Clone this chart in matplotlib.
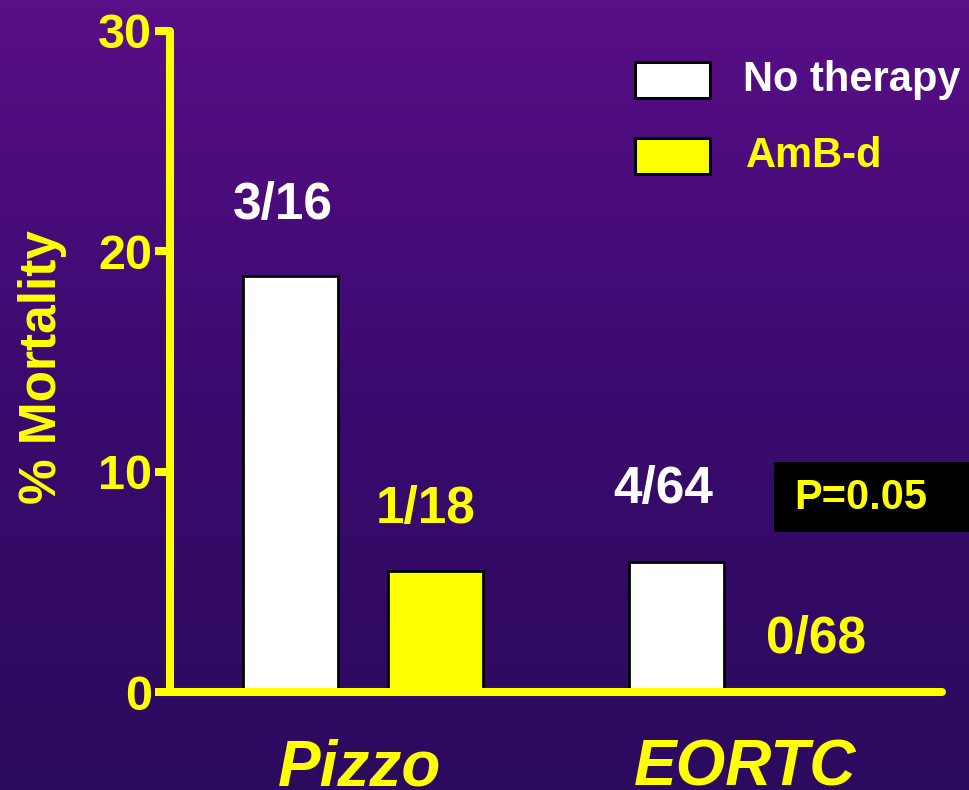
import numpy as np
import matplotlib
matplotlib.use("Agg")
import matplotlib.pyplot as plt
from matplotlib import font_manager
from matplotlib.patches import Rectangle
from matplotlib.colors import LinearSegmentedColormap

# ---- data ----
studies = ["Pizzo", "EORTC"]
series_names = ["No therapy", "AmB-d"]
no_therapy = [18.9, 5.9]
amb_d = [5.5, 0.0]
fractions_no_therapy = ["3/16", "4/64"]
fractions_amb_d = ["1/18", "0/68"]
y_ticks = [0, 10, 20, 30]
p_text = "P=0.05"
y_label = "% Mortality"

YELLOW = "#FFFF00"
WHITE = "#FFFFFF"

names = {f.name for f in font_manager.fontManager.ttflist}
narrow_fams = [n for n in ["Liberation Sans Narrow", "DejaVu Sans Condensed"] if n in names]
narrow = narrow_fams + ["Liberation Sans", "DejaVu Sans"]
plt.rcParams["font.family"] = ["Liberation Sans", "DejaVu Sans"]
plt.rcParams["font.weight"] = "bold"

W, H = 969, 790
fig = plt.figure(figsize=(W / 100, H / 100), dpi=100)

# background gradient
bg = fig.add_axes([0, 0, 1, 1], zorder=-10)
cmap = LinearSegmentedColormap.from_list("bg", ["#2c0a5e", "#3a0a6e", "#5a0e88"])
grad = np.linspace(0, 1, 256).reshape(-1, 1)
bg.imshow(grad, aspect="auto", cmap=cmap, origin="lower", extent=[0, 1, 0, 1])
bg.set_axis_off()

# main axes: pixel geometry
x0, x1 = 170, 942
y0, y1 = 692, 31
ax = fig.add_axes([x0 / W, 1 - y0 / H, (x1 - x0) / W, (y0 - y1) / H])
ax.set_facecolor("none")
ax.set_xlim(0, 2)
ax.set_ylim(0, 30)

centers = np.arange(len(studies)) + 0.5
off = 0.188
bw = 0.246
ax.bar(centers - off, no_therapy, bw, color=WHITE, edgecolor="black", linewidth=2, zorder=2)
ax.bar(centers + off, amb_d, bw, color=YELLOW, edgecolor="black", linewidth=2, zorder=2)

# fraction labels (layout offsets)
dy_white = [3.2, 3.3]
dy_yel = [2.8, 2.4]
dx_white = [-0.02, -0.035]
dx_yel = [-0.025, -0.015]
for i, c in enumerate(centers):
    ax.text(c - off + dx_white[i], no_therapy[i] + dy_white[i], fractions_no_therapy[i],
            color=WHITE, fontsize=37, fontweight="bold", ha="center", va="center")
    ax.text(c + off + dx_yel[i], amb_d[i] + dy_yel[i], fractions_amb_d[i], color=YELLOW,
            fontsize=37, fontweight="bold", ha="center", va="center")

# spines
for s in ["top", "right"]:
    ax.spines[s].set_visible(False)
for s in ["left", "bottom"]:
    ax.spines[s].set_color(YELLOW)
    ax.spines[s].set_linewidth(5.8)
    ax.spines[s].set_capstyle("round")
    ax.spines[s].set_zorder(3)

ax.set_yticks(y_ticks)
ax.set_yticklabels([str(t) for t in y_ticks], family=narrow, fontsize=35,
                   fontweight="bold", color=YELLOW)
ax.tick_params(axis="y", length=11, width=5.8, color=YELLOW, pad=2)
ax.set_xticks([])

ax.set_ylabel(y_label, color=YELLOW, fontsize=37, fontweight="bold")
ax.yaxis.set_label_coords(-0.133, 0.492)

# category labels
for c, name in zip(centers, studies):
    ax.text(c - 0.01, -2.1, name, transform=ax.transData, color=YELLOW, fontsize=46,
            fontweight="bold", fontstyle="italic", ha="center", va="top",
            clip_on=False)

# legend (manual in figure pixel coords)
def fx(px):
    return px / W
def fy(py):
    return 1 - py / H

leg_colors = [WHITE, YELLOW]
for k, (name, col) in enumerate(zip(series_names, leg_colors)):
    top = 62 + k * 76
    fig.patches.append(Rectangle((fx(635), fy(top + 36)), (710 - 635) / W, 36 / H,
                                 transform=fig.transFigure, facecolor=col,
                                 edgecolor="black", linewidth=2.2, zorder=5))
    fig.text(fx(743 + 3 * k), fy(top + 18), name, color=col, fontsize=30,
             fontweight="bold", ha="left", va="center", zorder=5)

# P value box
fig.patches.append(Rectangle((fx(774), fy(532)), (969 - 774) / W, 70 / H,
                             transform=fig.transFigure, facecolor="black",
                             edgecolor="none", zorder=5))
fig.text(fx(861), fy(498), p_text, color=YELLOW, fontsize=30, fontweight="bold",
         ha="center", va="center", zorder=6)

fig.savefig("out.png", dpi=100)
